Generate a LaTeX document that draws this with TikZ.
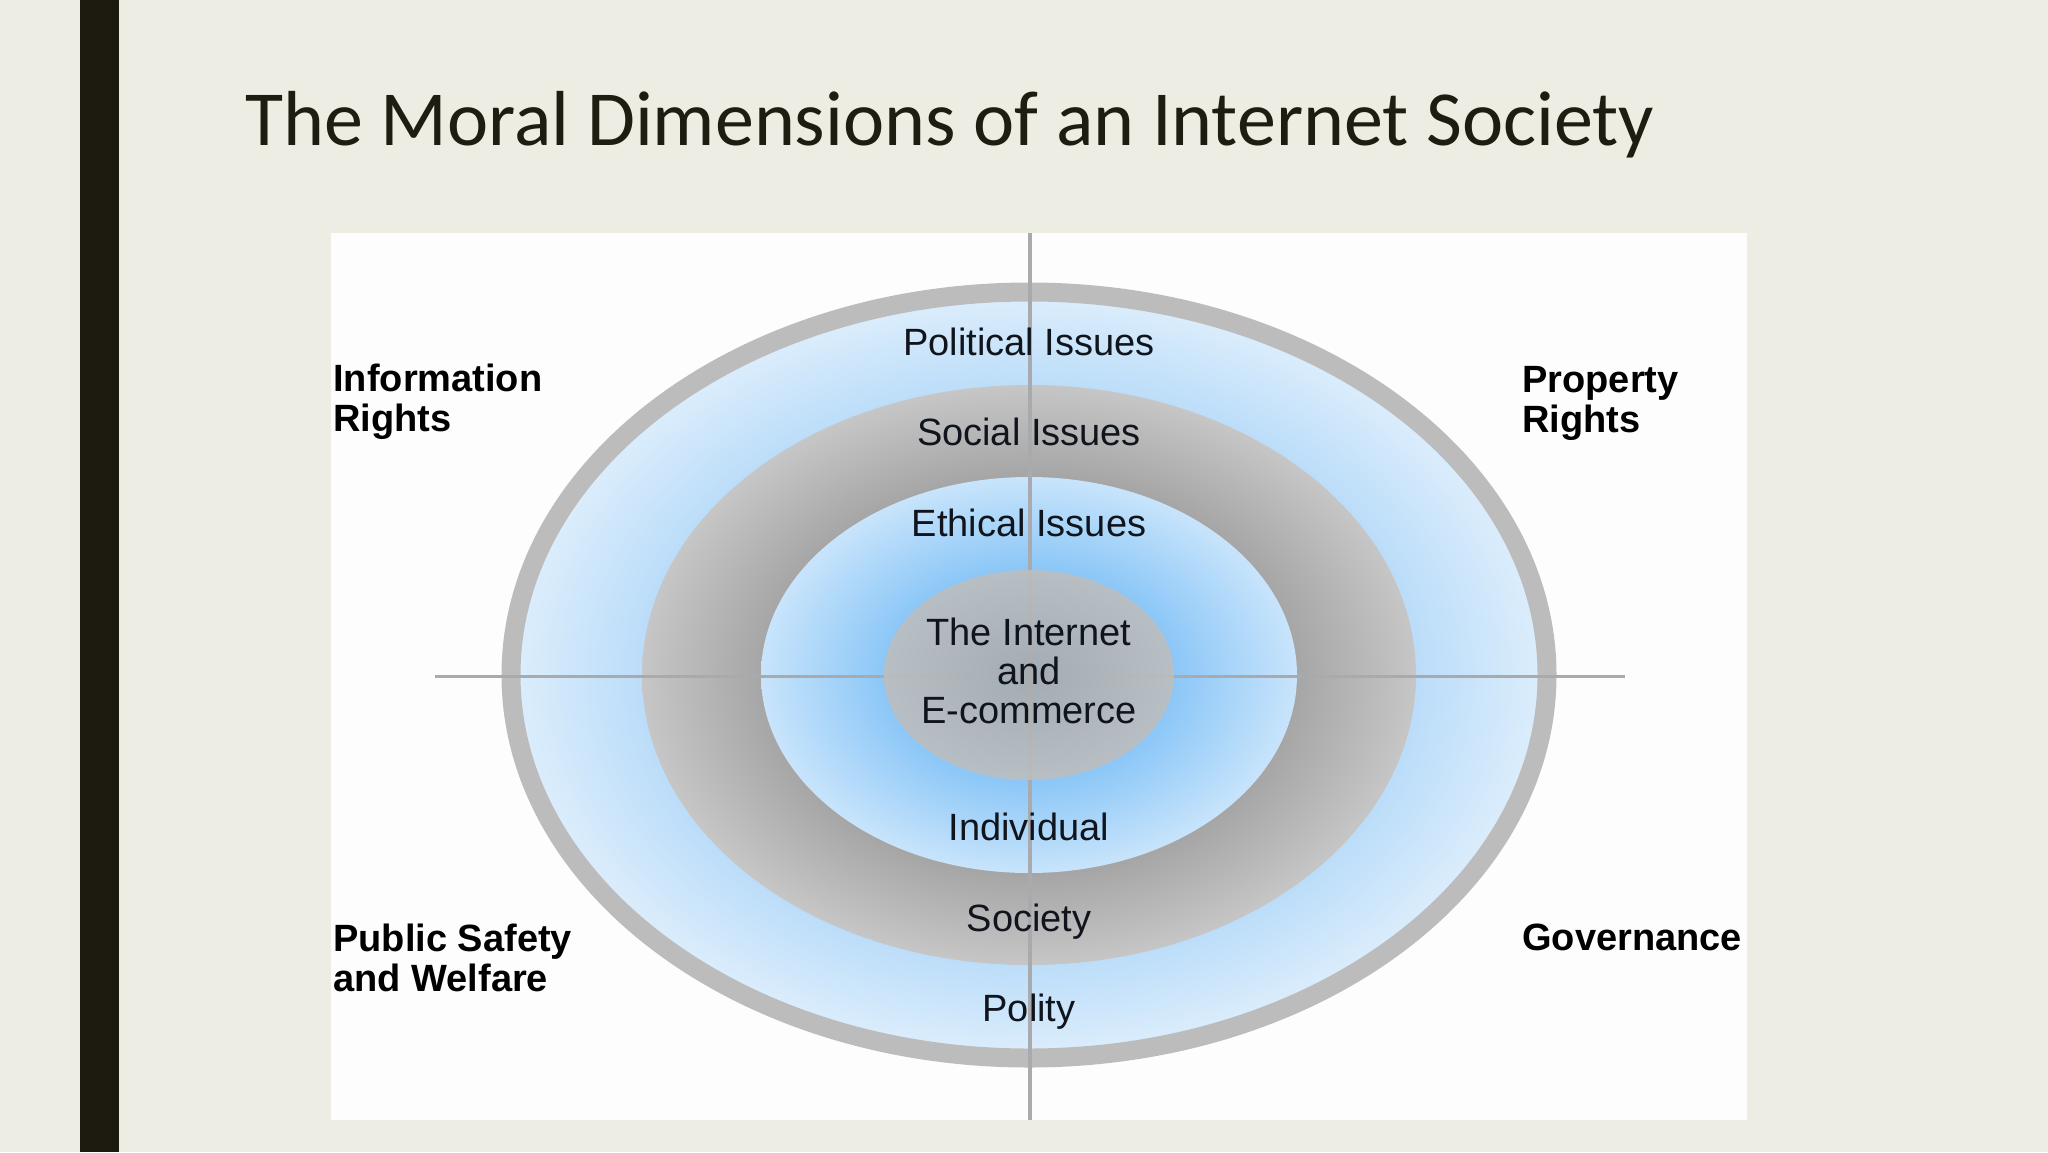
\documentclass[tikz,border=0pt]{standalone}
\usepackage{fontspec}
\setmainfont{Liberation Sans}
\newfontfamily\titlefont{Carlito}
\usetikzlibrary{shapes.geometric,positioning}

\definecolor{slidebg}{RGB}{237,237,227}
\definecolor{slidebar}{RGB}{29,27,16}
\definecolor{panelwhite}{RGB}{253,253,254}
\definecolor{ringgray}{RGB}{188,188,188}
\definecolor{axisgray}{RGB}{168,170,174}
\definecolor{labeltext}{RGB}{16,20,28}
\definecolor{titletext}{RGB}{31,29,18}

\definecolor{ob0}{HTML}{8CC6F6}
\definecolor{ob1}{HTML}{BADCF9}
\definecolor{ob2}{HTML}{DDEEFC}
\definecolor{ib0}{HTML}{78BCF5}
\definecolor{ib1}{HTML}{8CC7F7}
\definecolor{ib2}{HTML}{C8E4FB}
\definecolor{sg0}{HTML}{9A9A9A}
\definecolor{sg1}{HTML}{A5A5A5}
\definecolor{sg2}{HTML}{C6C6C6}
\definecolor{cg0}{HTML}{ABABAB}
\definecolor{cg1}{HTML}{BEBEBE}

% the ellipse edge sits at 25bp
\pgfdeclareradialshading{outerblue}{\pgfpointorigin}{color(0bp)=(ob0); color(18.5bp)=(ob1); color(25bp)=(ob2); color(50bp)=(ob2)}
\pgfdeclareradialshading{innerblue}{\pgfpointorigin}{color(0bp)=(ib0); color(13.5bp)=(ib1); color(25bp)=(ib2); color(50bp)=(ib2)}
\pgfdeclareradialshading{societygray}{\pgfpointorigin}{color(0bp)=(sg0); color(17bp)=(sg1); color(25bp)=(sg2); color(50bp)=(sg2)}
\pgfdeclareradialshading{coregray}{\pgfpointorigin}{color(0bp)=(cg0); color(25bp)=(cg1); color(50bp)=(cg1)}

\tikzset{
  ring/.style={ellipse, shade, inner sep=0pt},
  ringlabel/.style={anchor=base, inner sep=0pt, text=labeltext, font=\fontsize{19}{20}\selectfont},
  cornerlabel/.style={anchor=north west, align=left, inner sep=0pt, text=black, font=\fontsize{19}{20}\selectfont\bfseries},
  axisline/.style={draw=axisgray}
}

\begin{document}
\begin{tikzpicture}[x=0.5pt,y=-0.5pt]
\useasboundingbox (0,0) rectangle (2048,1152);
\fill[slidebg] (0,0) rectangle (2048,1152);
\fill[slidebar] (80,0) rectangle (119,1152);
\node at (245,145) [anchor=base west, inner sep=0pt, text=titletext, font=\titlefont\fontsize{39}{47}\selectfont] (title) {The Moral Dimensions of an Internet Society};
\fill[panelwhite] (331,233) rectangle (1747,1120);

% rings
\coordinate (ctr) at (1029,675);
\node at (ctr) [ring, shading=outerblue, draw=ringgray, line width=9.5pt, minimum width=518pt, minimum height=383pt] (polityring) {};
\node at (ctr) [ring, shading=societygray, minimum width=387pt, minimum height=290pt] (societyring) {};
\node at (ctr) [ring, shading=innerblue, minimum width=268pt, minimum height=198pt] (individualring) {};

% axes
\coordinate (axleft) at (435,676);
\coordinate (axright) at (1625,676);
\coordinate (axtop) at (1030,233);
\coordinate (axbottom) at (1030,1120);
\draw[axisline, line width=1.5pt] (axleft) -- (axright);
\draw[axisline, line width=2pt] (axtop) -- (axbottom);

\node at (ctr) [ring, shading=coregray, opacity=0.88, minimum width=145pt, minimum height=105pt] (core) {};

% ring labels
\node at (1029,355) [ringlabel] (political) {Political Issues};
\node at (1029,445) [ringlabel] (social) {Social Issues};
\node at (1029,536) [ringlabel] (ethical) {Ethical Issues};
\node at (1029,840) [ringlabel] (individual) {Individual};
\node at (1029,931) [ringlabel] (society) {Society};
\node at (1029,1021) [ringlabel] (polity) {Polity};
\node at (1029,671) [ringlabel, anchor=center, align=center, font=\fontsize{19}{19.5}\selectfont] (internet) {The Internet\\and\\E-commerce};

% dimensions
\node at (333,364) [cornerlabel] (inforights) {Information\\Rights};
\node at (1522,366) [cornerlabel] (proprights) {Property\\Rights};
\node at (333,924) [cornerlabel] (safety) {Public Safety\\and Welfare};
\node at (1522,924) [cornerlabel] (governance) {Governance};
\end{tikzpicture}
\end{document}
